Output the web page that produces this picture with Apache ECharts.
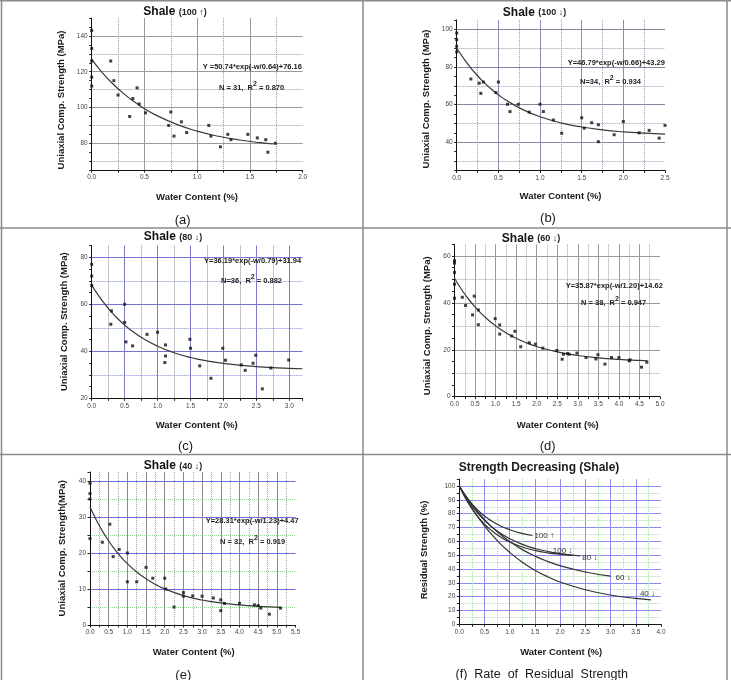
<!DOCTYPE html>
<html>
<head>
<meta charset="utf-8">
<title>Shale strength vs water content</title>
<script src="https://cdn.jsdelivr.net/npm/echarts@6/dist/echarts.min.js"></script>
<style>
  html, body { margin: 0; padding: 0; background: #fff; }
  #main { width: 731px; height: 680px; }
</style>
</head>
<body>
<div id="main"></div>
<script>
var aPoints = [[0,143],[0,133],[0,126],[0,117],[0,112],[0.18,126],[0.21,115],[0.25,107],[0.36,95],[0.39,105],[0.43,111],[0.45,102],[0.51,97],[0.73,90],[0.75,97.5],[0.78,84],[0.85,92],[0.9,86],[1.11,90],[1.13,84],[1.22,78],[1.29,85],[1.32,82],[1.48,85],[1.57,83],[1.65,82],[1.67,75],[1.74,80]];
var aFit = [[0,126.9],[0.1,119.56],[0.2,113.28],[0.3,107.91],[0.4,103.32],[0.5,99.39],[0.6,96.03],[0.8,90.7],[1.0,86.79],[1.2,83.94],[1.4,81.85],[1.6,80.32],[1.72,79.61]];

// (b) Shale 100 down
var bPoints = [[0,98],[0,94.5],[0,91],[0,88],[0.17,73.6],[0.27,71.4],[0.29,66],[0.32,72],[0.47,66.4],[0.5,72],[0.61,60.2],[0.64,56.3],[0.74,60.2],[0.87,56],[1.0,60.2],[1.04,56.3],[1.16,51.8],[1.26,44.8],[1.5,53],[1.53,47.5],[1.62,50.4],[1.7,49.3],[1.7,40.3],[1.89,44],[2.0,51],[2.19,45],[2.31,46.3],[2.43,42.2],[2.5,49]];
var bFit = [[0,90.08],[0.1,83.5],[0.2,77.85],[0.3,72.99],[0.4,68.81],[0.5,65.23],[0.6,62.14],[0.8,57.21],[1.0,53.57],[1.25,50.33],[1.5,48.11],[1.75,46.59],[2.0,45.55],[2.25,44.84],[2.5,44.35]];

// (c) Shale 80 down
var cPoints = [[0,77],[0,72],[0,68],[0.29,51.5],[0.3,57.2],[0.5,60],[0.5,52.3],[0.52,44],[0.62,42.3],[0.84,47.2],[1.0,48.1],[1.12,42.7],[1.12,38],[1.11,35.2],[1.49,45.1],[1.5,41.3],[1.64,33.8],[1.81,28.5],[1.99,41.3],[2.03,36.2],[2.27,34.2],[2.33,31.9],[2.45,34.9],[2.49,38.3],[2.59,24],[2.72,32.9],[2.99,36.3]];
var cFit = [[0,68.13],[0.1,63.83],[0.2,60.03],[0.3,56.7],[0.4,53.75],[0.5,51.16],[0.6,48.87],[0.8,45.08],[1.0,42.15],[1.25,39.38],[1.5,37.36],[1.75,35.89],[2.0,34.82],[2.5,33.47],[3.0,32.75],[3.2,32.57]];

// (d) Shale 60 down
var dPoints = [[0,58],[0,57],[0,53],[0,48],[0,42],[0.19,42.4],[0.27,38.9],[0.44,34.9],[0.48,42.9],[0.58,37],[0.58,30.7],[0.99,33.3],[1.1,30.6],[1.1,26.7],[1.39,25.9],[1.47,27.9],[1.61,21.3],[1.82,23],[1.97,22.4],[2.15,20.7],[2.49,19.7],[2.62,16],[2.65,18.1],[2.75,18.4],[2.79,18.1],[2.98,18.6],[3.2,16.7],[3.44,16.1],[3.49,17.9],[3.66,13.9],[3.82,16.7],[4.0,16.7],[4.25,15.3],[4.27,15.7],[4.55,12.6],[4.68,14.7]];
var dFit = [[0,50.49],[0.2,44.98],[0.4,40.32],[0.6,36.38],[0.8,33.04],[1.0,30.21],[1.25,27.28],[1.5,24.9],[1.75,22.96],[2.0,21.4],[2.5,19.09],[3.0,17.56],[3.5,16.56],[4.0,15.9],[4.5,15.46],[4.7,15.33]];

// (e) Shale 40 down
var ePoints = [[0,39.4],[0,36.5],[0,35],[0,24],[0.33,23],[0.53,28],[0.62,19],[0.78,21],[1.0,20],[1.0,12],[1.25,12],[1.5,16],[1.68,13],[2.0,13],[2.03,10],[2.25,5],[2.5,9],[2.5,8],[2.75,8.1],[3.0,8],[3.3,7.5],[3.5,7],[3.5,4],[3.6,6],[4.0,6],[4.4,5.6],[4.5,5.4],[4.57,4.7],[4.8,3],[5.1,4.7]];
var eFit = [[0,32.78],[0.2,28.53],[0.4,24.92],[0.6,21.85],[0.8,19.24],[1.0,17.03],[1.25,14.72],[1.5,12.83],[1.75,11.29],[2.0,10.04],[2.5,8.18],[3.0,6.94],[3.5,6.12],[4.0,5.57],[4.5,5.2],[5.1,4.91]];

// (f) residual strength (%) curves
var fUp100 = [[0,100],[0.1,94.2],[0.2,89.3],[0.3,85],[0.4,81.4],[0.5,78.3],[0.6,75.7],[0.8,71.5],[1.0,68.4],[1.2,66.1],[1.45,64.2]];
var fDown100 = [[0,100],[0.1,92.7],[0.2,86.4],[0.3,81],[0.4,76.4],[0.5,72.4],[0.6,69],[0.8,63.5],[1.0,59.5],[1.25,55.9],[1.5,53.4],[1.75,51.7],[2.0,50.6],[2.25,49.8]];
var fDown80 = [[0,100],[0.1,93.7],[0.2,88.1],[0.3,83.2],[0.4,78.9],[0.5,75.1],[0.6,71.7],[0.8,66.2],[1.0,61.9],[1.25,57.8],[1.5,54.8],[1.75,52.7],[2.0,51.1],[2.4,49.4]];
var fDown60 = [[0,100],[0.2,89.1],[0.4,79.9],[0.6,72.1],[0.8,65.4],[1.0,59.8],[1.25,54],[1.5,49.3],[1.75,45.5],[2.0,42.4],[2.5,37.8],[3.0,34.8]];
var fDown40 = [[0,100],[0.2,87],[0.4,76],[0.6,66.7],[0.8,58.7],[1.0,52],[1.25,44.9],[1.5,39.1],[1.75,34.4],[2.0,30.6],[2.5,25],[3.0,21.2],[3.5,18.7],[3.8,17.6]];
var fLabels = ['100 \u2191', '100 \u2193', '80 \u2193', '60 \u2193', '40 \u2193'];

var FONT = '"Liberation Sans", Arial, sans-serif';
var CLEAR = 'rgba(0,0,0,0)';

function near(v, m) {
    var r = v / m;
    return Math.abs(r - Math.round(r)) < 1e-6;
}

// one colour per tick, so split lines can be switched on/off by value
function tickColors(min, max, step, pick) {
    var out = [], i = 0, v = min;
    while (v < max - 1e-6) {
        out.push(i === 0 ? CLEAR : pick(v));
        i++;
        v = min + i * step;
    }
    out.push(CLEAR);
    return out;
}

// two stacked axes per direction: solid major lines + labels, and a dotted minor layer
function axisPair(dim, grid, min, max, step, major, minor, majorColor, minorColor, fmt) {
    var pos = dim === 'x' ? 'bottom' : 'left';
    var main = {
        type: 'value', gridIndex: grid, min: min, max: max, interval: step, position: pos,
        axisLine: { show: true, onZero: false, lineStyle: { color: '#111', width: 1 } },
        axisTick: { show: true, length: 2.5, lineStyle: { color: '#222' } },
        axisLabel: {
            fontSize: 6.5, color: '#444', fontFamily: FONT, margin: 4,
            showMinLabel: true, showMaxLabel: true,
            formatter: function(v) { return near(v, major) ? fmt(v) : ''; }
        },
        splitLine: { show: true, lineStyle: { type: 'solid', width: 1,
            color: tickColors(min, max, step, function(v) { return near(v, major) ? majorColor : CLEAR; }) } }
    };
    var dots = {
        type: 'value', gridIndex: grid, min: min, max: max, interval: step, position: pos,
        axisLine: { show: false }, axisTick: { show: false }, axisLabel: { show: false },
        splitLine: { show: true, lineStyle: { type: 'dotted', width: 1,
            color: tickColors(min, max, step, function(v) { return (!near(v, major) && near(v, minor)) ? minorColor : CLEAR; }) } }
    };
    return [main, dots];
}

function fx(v) { return v.toFixed(1); }
function fy(v) { return String(Math.round(v)); }

var grids = [
    { left: 91.7, top: 18.1, width: 211, height: 152 },
    { left: 456.7, top: 19.9, width: 208.3, height: 150.6 },
    { left: 91.7, top: 245.5, width: 210.8, height: 152.8 },
    { left: 454.5, top: 244.3, width: 205.5, height: 152.4 },
    { left: 90, top: 472, width: 205.5, height: 153 },
    { left: 459.3, top: 479.1, width: 201.7, height: 145.2 }
];
grids.forEach(function(g) { g.outerBoundsMode = 'none'; g.containLabel = false; });

var xAxes = [].concat(
    axisPair('x', 0, 0, 2, 0.25, 0.5, 0.25, '#9a9a9a', '#9a9a9a', fx),
    axisPair('x', 1, 0, 2.5, 0.25, 0.5, 0.25, '#8c8cbc', '#9a9ab8', fx),
    axisPair('x', 2, 0, 3.2, 0.25, 0.5, 0.25, '#7c7cc4', '#8a8a9a', fx),
    axisPair('x', 3, 0, 5, 0.25, 0.5, 0.25, '#9a9a9a', '#a0a0a0', fx),
    axisPair('x', 4, 0, 5.5, 0.25, 0.5, 0.25, '#8a8a8a', '#a8a8a8', fx),
    axisPair('x', 5, 0, 4, 0.25, 0.5, 0.25, '#8c8cf2', '#9fe29f', fx)
);
var yAxes = [].concat(
    axisPair('y', 0, 65, 150, 5, 20, 10, '#9a9a9a', '#9a9a9a', fy),
    axisPair('y', 1, 25, 105, 5, 20, 10, '#85859e', '#9a9ab8', fy),
    axisPair('y', 2, 20, 85, 5, 20, 10, '#7373d2', '#8a8acc', fy),
    axisPair('y', 3, 0, 65, 5, 20, 10, '#9a9a9a', '#a0a0a0', fy),
    axisPair('y', 4, 0, 42.5, 5, 10, 5, '#6b6be6', '#94dc94', fy),
    axisPair('y', 5, 0, 105, 5, 10, 5, '#8c8cf2', '#9fe29f', fy)
);

function dots(i, data) {
    return { type: 'scatter', xAxisIndex: i * 2, yAxisIndex: i * 2, data: data,
        symbol: 'rect', symbolSize: 3, itemStyle: { color: '#111' }, z: 4 };
}
function fit(i, data) {
    return { type: 'line', xAxisIndex: i * 2, yAxisIndex: i * 2, data: data, smooth: true,
        showSymbol: false, lineStyle: { color: '#3a3a3a', width: 1.2 }, z: 3 };
}
function residual(data, name, off) {
    return { type: 'line', name: name, xAxisIndex: 10, yAxisIndex: 10, data: data, smooth: true,
        showSymbol: false, lineStyle: { color: '#333', width: 1.2 }, z: 3,
        endLabel: { show: true, formatter: name, distance: 0, offset: off, fontSize: 8,
            color: '#333', fontFamily: FONT } };
}

var series = [
    dots(0, aPoints), fit(0, aFit),
    dots(1, bPoints), fit(1, bFit),
    dots(2, cPoints), fit(2, cFit),
    dots(3, dPoints), fit(3, dFit),
    dots(4, ePoints), fit(4, eFit),
    residual(fUp100, fLabels[0], [2, 0]),
    residual(fDown100, fLabels[1], [-20, -5]),
    residual(fDown80, fLabels[2], [2, 2]),
    residual(fDown60, fLabels[3], [5, 2]),
    residual(fDown40, fLabels[4], [-11, -6])
];

// page furniture: frame, titles, axis names, fit equations, captions
function line(x1, y1, x2, y2) {
    return { type: 'line', silent: true, shape: { x1: x1, y1: y1, x2: x2, y2: y2 },
        style: { stroke: '#8a8a8a', lineWidth: 1.5 } };
}
function text(x, y, str, size, bold, align, rot) {
    return { type: 'text', x: x, y: y, rotation: rot || 0, silent: true, z: 10,
        style: { text: str, fontSize: size, fontWeight: bold ? 'bold' : 'normal', fontFamily: FONT,
            fill: '#1a1a1a', align: align || 'center', verticalAlign: 'middle' } };
}
function title(x, y, tag) {
    return { type: 'text', x: x, y: y, silent: true, z: 10,
        style: { text: '{b|Shale }{s|(' + tag + ')}', align: 'center', verticalAlign: 'middle',
            rich: {
                b: { fontSize: 12, fontWeight: 'bold', fontFamily: FONT, fill: '#111', verticalAlign: 'bottom' },
                s: { fontSize: 9, fontWeight: 'bold', fontFamily: FONT, fill: '#222', verticalAlign: 'bottom', padding: [0, 0, 1, 0] }
            } } };
}
function stats(x, y, head, tail) {
    return { type: 'text', x: x, y: y, silent: true, z: 10,
        style: { text: '{t|' + head + '}{u|2}{t|' + tail + '}', align: 'left', verticalAlign: 'middle',
            rich: {
                t: { fontSize: 7.5, fontWeight: 'bold', fontFamily: FONT, fill: '#222', verticalAlign: 'bottom' },
                u: { fontSize: 7, fontWeight: 'bold', fontFamily: FONT, fill: '#222', verticalAlign: 'bottom', padding: [0, 0, 4, 0] }
            } } };
}

var yName = 'Uniaxial Comp. Strength (MPa)';
var xName = 'Water Content (%)';
var up = Math.PI / 2;

var graphics = [
    line(0, 0.75, 731, 0.75), line(1.5, 0, 1.5, 680), line(727, 0, 727, 680), line(363, 0, 363, 680),
    line(0, 228, 731, 228), line(0, 454.5, 731, 454.5),

    title(175, 12, '100 \u2191'), title(534.5, 12.5, '100 \u2193'), title(173, 237, '80 \u2193'),
    title(531, 238.5, '60 \u2193'), title(173, 466, '40 \u2193'),
    text(539, 467.5, 'Strength Decreasing (Shale)', 12, true),

    text(61.7, 100, yName, 9.5, true, 'center', up), text(197, 197.3, xName, 9.5, true),
    text(426.7, 99, yName, 9.5, true, 'center', up), text(560.5, 196, xName, 9.5, true),
    text(64, 321.7, yName, 9.5, true, 'center', up), text(196.7, 425, xName, 9.5, true),
    text(427.7, 325.8, yName, 9.5, true, 'center', up), text(557.8, 425, xName, 9.5, true),
    text(62.7, 548.3, 'Uniaxial Comp. Strength(MPa)', 9.5, true, 'center', up), text(193.7, 652.3, xName, 9.5, true),
    text(424.3, 550, 'Residual Strength (%)', 9.5, true, 'center', up), text(561.2, 652.7, xName, 9.5, true),

    text(202.7, 66.7, 'Y =50.74*exp(-w/0.64)+76.16', 7.5, true, 'left'),
    stats(219, 86, 'N = 31,  R', ' = 0.870'),
    text(567.7, 63.3, 'Y=46.79*exp(-w/0.66)+43.29', 7.5, true, 'left'),
    stats(580, 80, 'N=34,  R', ' = 0.934'),
    text(204, 261, 'Y=36.19*exp(-w/0.79)+31.94', 7.5, true, 'left'),
    stats(221, 279.3, 'N=36,  R', ' = 0.882'),
    text(565.7, 285.7, 'Y=35.87*exp(-w/1.20)+14.62', 7.5, true, 'left'),
    stats(581, 301, 'N = 38,  R', ' = 0.947'),
    text(205.7, 520.7, 'Y=28.31*exp(-w/1.23)+4.47', 7.5, true, 'left'),
    stats(220, 540, 'N = 32,  R', ' = 0.919'),

    text(182.7, 220, '(a)', 13, false), text(548, 218.3, '(b)', 13, false),
    text(185.5, 446.7, '(c)', 13, false), text(547.7, 446, '(d)', 13, false),
    text(183.3, 675, '(e)', 13, false), text(541.7, 675, '(f)  Rate  of  Residual  Strength', 12.5, false)
];

var chart = echarts.init(document.getElementById('main'), null, { renderer: 'canvas' });
chart.setOption({
    backgroundColor: '#ffffff',
    animation: false,
    grid: grids,
    xAxis: xAxes,
    yAxis: yAxes,
    series: series,
    graphic: graphics
});
</script>
</body>
</html>
